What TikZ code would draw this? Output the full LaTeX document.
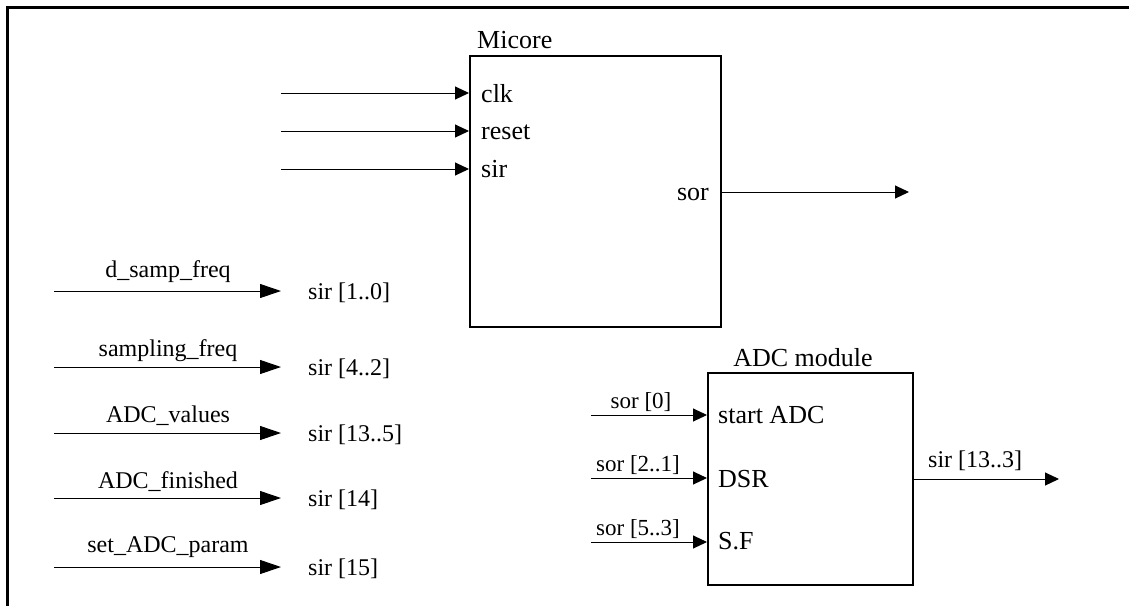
\documentclass[tikz,border=0pt]{standalone}
\usepackage{fontspec}
\setmainfont{Liberation Serif}
\usetikzlibrary{arrows.meta}
\tikzset{
  x=1pt, y=-1pt,
  wire/.style={line width=1pt, -{Triangle[length=14pt,width=13pt]}},
  sigwire/.style={line width=1pt, -{Triangle[length=21pt,width=14pt]}},
  blockbox/.style={draw, line width=2pt, inner sep=0pt},
  lbl/.style={inner sep=0pt, font=\fontsize{24}{28}\selectfont},
  smalllbl/.style={inner sep=0pt, font=\fontsize{23}{27}\selectfont},
  portlbl/.style={inner sep=0pt, font=\fontsize{26}{30}\selectfont},
  titlelbl/.style={inner sep=0pt, font=\fontsize{26}{30}\selectfont},
}
\begin{document}
\begin{tikzpicture}
\useasboundingbox (0,0) rectangle (1129,606);
% frame (top and left edges only)
\draw[line width=2.5pt] (1129,7.5) -- (7.5,7.5) -- (7.5,606);

% Micore block
\node[blockbox, minimum width=251pt, minimum height=271pt] (micore) at (595.5,191.5) {};
\node[titlelbl, anchor=base west] (micoretitle) at (477,48) {Micore};
\coordinate (clkin) at (281,93);
\coordinate (rstin) at (281,131);
\coordinate (sirin) at (281,169);
\draw[wire] (clkin) -- (clkin -| micore.west);
\draw[wire] (rstin) -- (rstin -| micore.west);
\draw[wire] (sirin) -- (sirin -| micore.west);
\node[portlbl, anchor=base west] (pclk) at (481,102) {clk};
\node[portlbl, anchor=base west] (preset) at (481,139) {reset};
\node[portlbl, anchor=base west] (psir) at (481,177) {sir};
\node[portlbl, anchor=base east] (psor) at (709,200) {sor};
\coordinate (sorout) at (909,192);
\draw[wire] (micore.east |- sorout) -- (sorout);

% signal mapping list
\foreach \i/\yy/\top/\dy/\bit in {
  1/291/d\_samp\_freq/14/sir [1..0],
  2/367/sampling\_freq/11/sir [4..2],
  3/433/ADC\_values/11/sir [13..5],
  4/498/ADC\_finished/10/sir [14],
  5/567/set\_ADC\_param/15/sir [15]} {
  \coordinate (ls\i) at (54,\yy);
  \coordinate (le\i) at (281,\yy);
  \draw[sigwire] (ls\i) -- (le\i);
  \node[lbl, anchor=base] (sig\i) at (168,\yy-\dy) {\top};
  \node[lbl, anchor=base west] (bit\i) at (308,\yy+8) {\bit};
}

% ADC module
\node[blockbox, minimum width=205pt, minimum height=212pt] (adc) at (810.5,479) {};
\node[titlelbl, anchor=base] (adctitle) at (803,366) {ADC module};
\coordinate (a1) at (591,415);
\coordinate (a2) at (591,478);
\coordinate (a3) at (591,542);
\draw[wire] (a1) -- (a1 -| adc.west);
\draw[wire] (a2) -- (a2 -| adc.west);
\draw[wire] (a3) -- (a3 -| adc.west);
\node[smalllbl, anchor=base] (s0) at (641,408) {sor [0]};
\node[smalllbl, anchor=base] (s1) at (638,471) {sor [2..1]};
\node[smalllbl, anchor=base] (s2) at (638,535) {sor [5..3]};
\node[portlbl, anchor=base west] (pstart) at (718,423) {start ADC};
\node[portlbl, anchor=base west] (pdsr) at (718,487) {DSR};
\node[portlbl, anchor=base west] (psf) at (718,549) {S.F};
\coordinate (adcout) at (1059,479);
\draw[wire] (adc.east |- adcout) -- (adcout);
\node[lbl, anchor=base west] (sirout) at (928,467) {sir [13..3]};
\end{tikzpicture}
\end{document}
